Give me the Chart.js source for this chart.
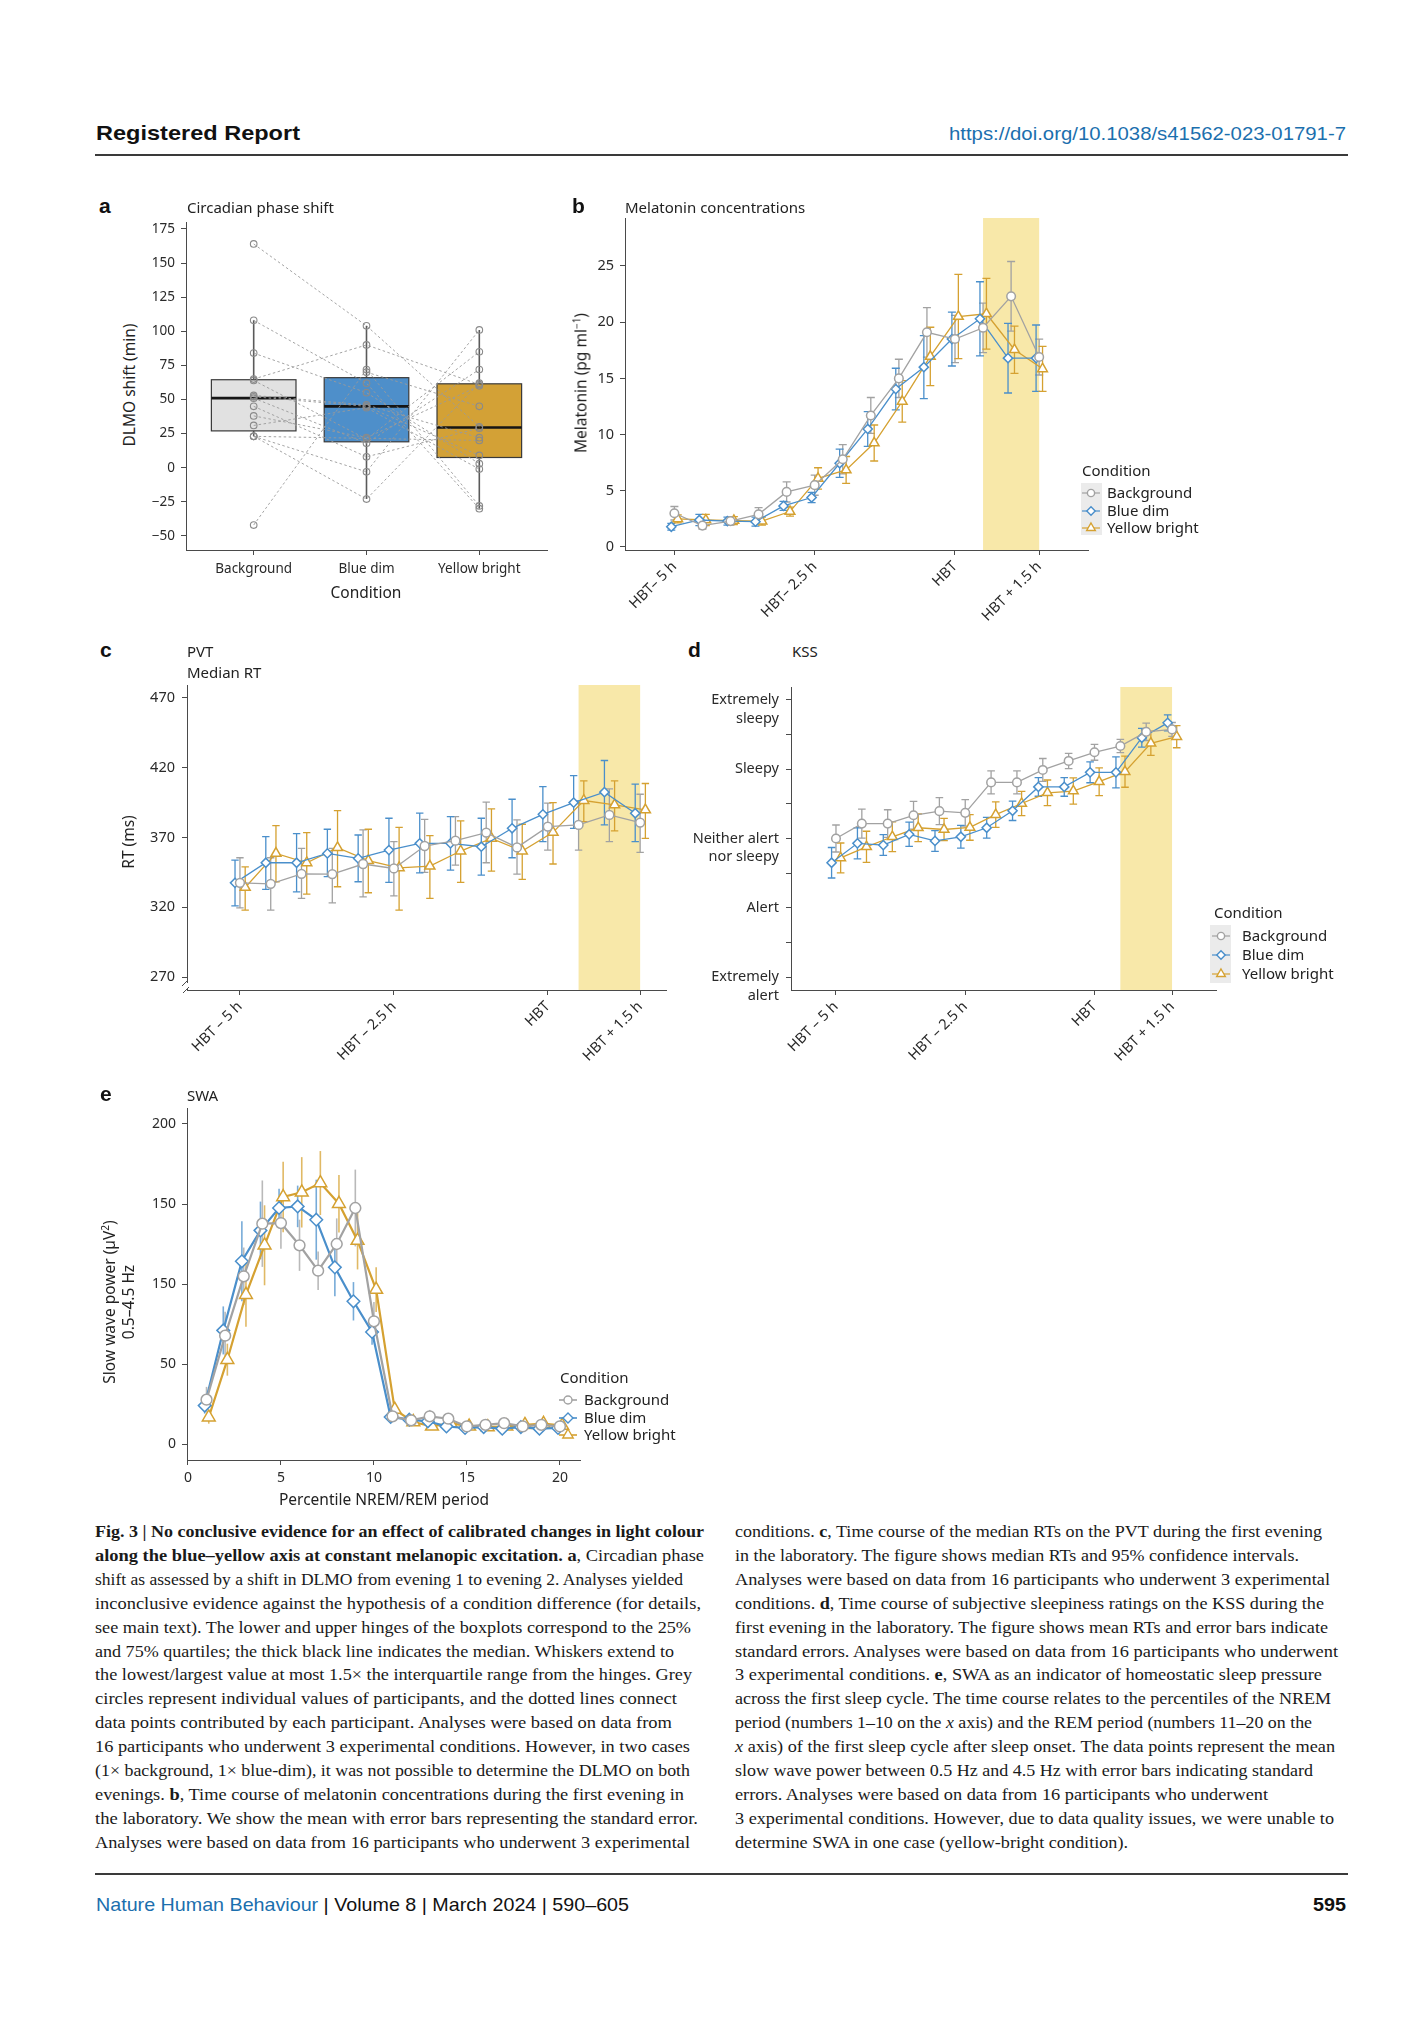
<!DOCTYPE html>
<html lang="en">
<head>
<meta charset="utf-8">
<title>Fig. 3</title>
<script src="https://cdn.jsdelivr.net/npm/chart.js@4.4.1/dist/chart.umd.min.js"></script>
<style>
  html, body { margin: 0; padding: 0; background: #fff; }
  #page { position: relative; width: 1428px; height: 2028px; overflow: hidden; background: #fff; color: #222; font-family: 'Noto Sans', 'DejaVu Sans', sans-serif; }
  #page canvas { position: absolute; }
  .t { position: absolute; white-space: nowrap; font-size: 15px; line-height: 18px; transform-origin: 0 50%; }
  .letter { position: absolute; font-family: 'Liberation Sans', Arial, sans-serif; font-weight: bold; font-size: 21px; line-height: 24px; color: #111; }
  .rot { position: absolute; white-space: nowrap; font-size: 15.5px; line-height: 19px; text-align: center; transform: translate(-50%, -50%) rotate(-90deg); }
  .rule { position: absolute; left: 95px; width: 1253px; height: 2px; background: #3a3a3a; }
  .cap { position: absolute; white-space: nowrap; font-family: 'Liberation Serif', serif; font-size: 17.5px; line-height: 23.9px; color: #1a1a1a; transform-origin: 0 50%; }
  .key { position: absolute; }
  .keybg { position: absolute; background: #ebebeb; }
  .head { position: absolute; white-space: nowrap; font-family: 'Liberation Sans', Arial, sans-serif; transform-origin: 0 50%; }
</style>
</head>
<body>
<div id="page">
  <div class="head" style="left:96px;top:121px;font-size:21px;line-height:24px;font-weight:bold;color:#111" data-w="204">Registered Report</div>
  <div class="head" style="left:949px;top:123px;font-size:19px;line-height:22px;color:#1b6fae" data-w="397">https://doi.org/10.1038/s41562-023-01791-7</div>
  <div class="rule" style="top:154px"></div>

  <canvas id="chartA" width="420" height="380" style="left:140px;top:212px"></canvas>
  <canvas id="chartB" width="530" height="430" style="left:570px;top:208px"></canvas>
  <canvas id="chartC" width="545" height="410" style="left:130px;top:675px"></canvas>
  <canvas id="chartD" width="545" height="408" style="left:685px;top:677px"></canvas>
  <canvas id="chartE" width="450" height="395" style="left:140px;top:1098px"></canvas>

  <div class="letter" style="left:99px;top:194px">a</div>
  <div class="t" style="left:187px;top:198px">Circadian phase shift</div>
  <div class="rot" style="left:129px;top:385px">DLMO shift (min)</div>
  <div class="t" style="left:366px;top:583px;font-size:15.5px;transform:translateX(-50%)">Condition</div>

  <div class="letter" style="left:572px;top:194px">b</div>
  <div class="t" style="left:625px;top:198px">Melatonin concentrations</div>
  <div class="rot" style="left:579px;top:383px">Melatonin (pg ml<sup style="font-size:10px">−1</sup>)</div>

  <div class="letter" style="left:100px;top:638px">c</div>
  <div class="t" style="left:187px;top:642px">PVT</div>
  <div class="t" style="left:187px;top:663px">Median RT</div>
  <div class="rot" style="left:128px;top:842px">RT (ms)</div>

  <div class="letter" style="left:688px;top:638px">d</div>
  <div class="t" style="left:792px;top:642px">KSS</div>

  <div class="letter" style="left:100px;top:1082px">e</div>
  <div class="t" style="left:187px;top:1086px">SWA</div>
  <div class="rot" style="left:117px;top:1302px">Slow wave power (µV<sup style="font-size:10px">2</sup>)<br>0.5–4.5 Hz</div>
  <div class="t" style="left:384px;top:1490px;font-size:15.5px;transform:translateX(-50%)">Percentile NREM/REM period</div>

  <div class="rule" style="top:1873px"></div>
  <div class="head" style="left:96px;top:1894px;font-size:18.5px;line-height:22px;color:#111" data-w="533"><span style="color:#1b6fae">Nature Human Behaviour</span> | Volume 8 | March 2024 | 590–605</div>
  <div class="head" style="left:1313px;top:1894px;font-size:18.5px;line-height:22px;font-weight:bold;color:#111" data-w="33">595</div>
</div>

<script>
// ---- panel a: DLMO shift per participant (min), null = not determined
const conditions = ['Background', 'Blue dim', 'Yellow bright'];
const shiftBackground = [164, 108, 84, 65, 64, 53, 52, 51, 45, 38, 31, 23, 23, 23, -42, null];
const shiftBlueDim    = [104, 62, 55, 90, 21, 46, 45, 18, 8, 22, 44, null, -3, -23, 72, 70];
const shiftYellow     = [30, -30, 3, 61, 85, 22, 9, 72, 29, 60, -1, 20, 101, 62, -28, 45];
const boxLower  = [23, -23, -30];
const boxQ1     = [27, 19, 7.5];
const boxMedian = [51, 45, 29.5];
const boxQ3     = [64.5, 66, 61.5];
const boxUpper  = [108, 104, 101];
const shiftTicks = [-50, -25, 0, 25, 50, 75, 100, 125, 150, 175];

// ---- shared time axis for b, c, d (hours relative to habitual bedtime)
const sampleHours = [-5, -4.5, -4, -3.5, -3, -2.5, -2, -1.5, -1, -0.5, 0, 0.5, 1, 1.5];
const hourTicks = [-5, -2.5, 0, 1.5];
const hourLabelsB = ['HBT– 5 h', 'HBT– 2.5 h', 'HBT', 'HBT + 1.5 h'];
const hourLabelsCD = ['HBT – 5 h', 'HBT – 2.5 h', 'HBT', 'HBT + 1.5 h'];

// ---- panel b: melatonin (pg/ml), mean and SE
const melBackground = [3.0, 1.9, 2.3, 2.9, 4.9, 5.5, 7.8, 11.7, 15.0, 19.1, 18.5, 19.5, 22.3, 16.9];
const melBackgroundSE = [0.6, 0.3, 0.35, 0.6, 0.9, 0.9, 1.3, 1.6, 1.7, 2.2, 2.1, 2.2, 3.1, 1.6];
const melBlueDim = [1.8, 2.4, 2.3, 2.25, 3.65, 4.4, 7.45, 10.5, 14.05, 16.0, 18.5, 20.3, 16.8, 16.8];
const melBlueDimSE = [0.3, 0.5, 0.35, 0.4, 0.4, 0.45, 1.25, 1.55, 1.85, 2.8, 2.4, 3.3, 3.1, 2.95];
const melYellow = [2.5, 2.4, 2.35, 2.3, 3.15, 6.1, 6.85, 9.25, 12.95, 16.95, 20.5, 20.75, 17.55, 15.85];
const melYellowSE = [0.35, 0.5, 0.35, 0.35, 0.4, 0.95, 1.2, 1.6, 1.85, 2.6, 3.75, 3.15, 2.1, 2.0];
const melTicks = [0, 5, 10, 15, 20, 25];

// ---- panel c: PVT median RT (ms) with 95% CI
const rtBackground = [337.5, 336.8, 344.0, 343.8, 351.0, 347.8, 363.9, 367.7, 373.5, 362.9, 377.8, 379.0, 386.2, 380.7];
const rtBackgroundLo = [319.6, 317.9, 326.3, 323.2, 327.5, 328.2, 345.0, 350.2, 351.9, 343.8, 361.0, 361.0, 367.0, 359.3];
const rtBackgroundHi = [355.5, 355.5, 362.2, 362.2, 375.4, 367.0, 383.0, 385.0, 395.3, 382.6, 394.6, 396.5, 404.9, 401.0];
const rtBlueDim = [337.5, 351.9, 351.9, 358.6, 355.0, 361.0, 365.8, 365.8, 363.4, 376.6, 386.6, 395.0, 402.5, 387.4];
const rtBlueDimLo = [321.0, 332.8, 331.0, 341.9, 338.3, 337.8, 344.7, 346.6, 343.0, 355.5, 367.0, 376.6, 379.0, 367.0];
const rtBlueDimHi = [353.8, 370.6, 372.8, 375.9, 371.8, 383.8, 387.4, 385.0, 383.8, 397.4, 406.5, 414.4, 425.2, 408.2];
const rtYellow = [334.2, 358.6, 351.9, 362.7, 353.4, 348.3, 349.5, 360.3, 369.4, 360.3, 373.7, 396.5, 393.4, 389.8];
const rtYellowLo = [317.9, 338.3, 329.4, 334.7, 330.4, 317.9, 326.3, 337.8, 345.9, 340.0, 351.0, 381.4, 374.7, 369.4];
const rtYellowHi = [349.0, 378.5, 373.5, 389.3, 375.9, 377.3, 371.3, 381.9, 390.5, 379.5, 395.0, 410.6, 410.6, 408.7];
const rtTicks = [270, 320, 370, 420, 470];

// ---- panel d: KSS (1-9), mean and SE
const kssBackground = [5.0, 5.43, 5.43, 5.67, 5.79, 5.74, 6.62, 6.62, 6.98, 7.24, 7.49, 7.67, 8.08, 8.15];
const kssBackgroundSE = [0.39, 0.42, 0.4, 0.4, 0.39, 0.38, 0.33, 0.33, 0.33, 0.22, 0.23, 0.19, 0.25, 0.2];
const kssBlueDim = [4.30, 4.86, 4.81, 5.12, 4.93, 5.05, 5.31, 5.80, 6.49, 6.49, 6.91, 6.91, 7.91, 8.34];
const kssBlueDimSE = [0.44, 0.45, 0.3, 0.35, 0.3, 0.33, 0.3, 0.28, 0.27, 0.27, 0.3, 0.45, 0.27, 0.23];
const kssYellow = [4.44, 4.76, 5.05, 5.31, 5.26, 5.32, 5.69, 6.01, 6.32, 6.37, 6.64, 6.93, 7.75, 7.94];
const kssYellowSE = [0.43, 0.45, 0.43, 0.4, 0.32, 0.37, 0.37, 0.35, 0.37, 0.38, 0.4, 0.45, 0.35, 0.32];
const kssTicks = [1, 2, 3, 4, 5, 6, 7, 8, 9];
const kssNamedTicks = [1, 3, 5, 7, 9];
const kssNames = [['Extremely', 'alert'], ['Alert'], ['Neither alert', 'nor sleepy'], ['Sleepy'], ['Extremely', 'sleepy']];

// ---- panel e: slow wave power (µV²), mean and SE
const percentiles = [1, 2, 3, 4, 5, 6, 7, 8, 9, 10, 11, 12, 13, 14, 15, 16, 17, 18, 19, 20];
const swaBackground = [27.7, 67.7, 104.8, 137.7, 138.1, 124.2, 108.3, 125, 147.5, 76.7, 17.3, 14.8, 17.3, 15.8, 11, 12, 13, 11, 12, 11];
const swaBackgroundSE = [8, 15, 18, 27, 16, 16, 12, 16, 24, 12, 2, 2, 4, 3, 2, 2, 2, 2, 2, 2];
const swaBlueDim = [24, 71, 114.2, 133.5, 147.5, 148.5, 140.2, 110.4, 89.2, 70, 16.9, 15.2, 14.2, 11, 10, 10.6, 9.6, 10.6, 9.6, 10];
const swaBlueDimSE = [5, 15, 25, 18, 12, 13, 25, 18, 12, 8, 2, 2, 2, 2, 1.5, 1.5, 1.5, 1.5, 1.5, 1.5];
const swaYellow = [16.7, 52.7, 93.3, 124.2, 154.4, 157.3, 163.1, 150.2, 127.1, 96.5, 21.5, 13.75, 11, 13, 11, 10.6, 11, 12, 12.7, 11.5];
const swaYellowSE = [4, 10, 20, 25, 22, 22, 20, 18, 18, 14, 3, 2, 2, 2, 2, 1.5, 1.5, 1.5, 1.5, 1.5];
const swaTicks = [0, 50, 100, 150, 200];
const swaTickLabels = ['0', '50', '150', '150', '200'];   // as printed in the original
const percentileTicks = [0, 5, 10, 15, 20];

// ---- styling
Chart.defaults.font.family = "'Noto Sans', 'DejaVu Sans', sans-serif";
Chart.defaults.color = '#2a2a2a';
const AXIS = '#4a4a4a';
const GREY = '#a2a2a2', BLUE = '#4a8fcb', YELLOW = '#d5a131';
const BOX_FILL = ['#e1e1e1', '#4e8fca', '#d3a136'];
const BOX_HALF = 0.375;   // half box width in category units

const minus = (m, s) => m.map((v, i) => v - s[i]);
const plus = (m, s) => m.map((v, i) => v + s[i]);

// shaded light-exposure window
const band = {
  id: 'band',
  beforeDatasetsDraw(chart, args, opts) {
    const { ctx, chartArea, scales: { x } } = chart;
    const x1 = x.getPixelForValue(opts.from), x2 = x.getPixelForValue(opts.to);
    ctx.save();
    ctx.fillStyle = opts.color || '#f8e8a9';
    ctx.fillRect(x1, chartArea.top, x2 - x1, chartArea.bottom - chartArea.top);
    ctx.restore();
  }
};

// vertical error bars, read from dataset.errLo / errHi
const errorBars = {
  id: 'errorBars',
  beforeDatasetsDraw(chart) {
    const { ctx, scales: { x, y } } = chart;
    chart.data.datasets.forEach(ds => {
      if (!ds.errLo) return;
      ctx.save();
      ctx.strokeStyle = ds.errColor;
      ctx.lineWidth = ds.errWidth;
      ds.data.forEach((p, j) => {
        const px = x.getPixelForValue(p.x);
        const y1 = y.getPixelForValue(ds.errLo[j]);
        const y2 = y.getPixelForValue(ds.errHi[j]);
        ctx.beginPath();
        ctx.moveTo(px, y1); ctx.lineTo(px, y2);
        if (ds.errCap) {
          ctx.moveTo(px - ds.errCap, y1); ctx.lineTo(px + ds.errCap, y1);
          ctx.moveTo(px - ds.errCap, y2); ctx.lineTo(px + ds.errCap, y2);
        }
        ctx.stroke();
      });
      ctx.restore();
    });
  }
};

function mkSeries(xs, dodge, mean, lo, hi, color, shape, r, lw, cap, errColor, errW) {
  return {
    data: mean.map((v, i) => ({ x: xs[i] + dodge, y: v })),
    borderColor: color, backgroundColor: color, borderWidth: lw,
    pointStyle: shape, pointRadius: r, pointBorderWidth: 1.5,
    pointBackgroundColor: '#ffffff', pointBorderColor: color,
    tension: 0, fill: false,
    errLo: lo, errHi: hi, errCap: cap, errColor: errColor || color, errWidth: errW || 1.3
  };
}

function axisX(o) {
  return {
    type: 'linear', min: o.min, max: o.max, offset: false,
    grid: { drawOnChartArea: false, tickLength: 5, color: AXIS, offset: false },
    border: { color: AXIS, width: 1 },
    ticks: {
      autoSkip: false, maxRotation: o.rot, minRotation: o.rot, padding: o.pad,
      color: '#2a2a2a', font: { size: o.fs },
      callback: v => o.labels[o.ticks.indexOf(v)]
    },
    afterBuildTicks: s => { s.ticks = o.ticks.map(v => ({ value: v })); },
    afterFit: s => { s.height = o.h; s.paddingLeft = 0; s.paddingRight = 0; }
  };
}

function axisY(o) {
  return {
    type: 'linear', min: o.min, max: o.max,
    grid: { drawOnChartArea: false, tickLength: 5, color: AXIS },
    border: { color: AXIS, width: 1 },
    ticks: {
      autoSkip: false, padding: o.pad, color: '#2a2a2a',
      font: { size: o.fs, lineHeight: o.lh || 1.2 },
      callback: o.label
    },
    afterBuildTicks: s => { s.ticks = o.ticks.map(v => ({ value: v })); },
    afterFit: s => { s.width = o.w; s.paddingTop = 0; s.paddingBottom = 0; }
  };
}

function baseOptions(padRight, x, y, bandOpts) {
  return {
    responsive: false, animation: false, events: [],
    layout: { padding: { left: 0, top: 10, right: padRight, bottom: 0 } },
    plugins: { legend: { display: false }, tooltip: { enabled: false }, band: bandOpts || false },
    scales: { x: x, y: y }
  };
}

// ---- a: boxplots + participant trajectories
const boxPlot = {
  id: 'boxPlot',
  beforeDatasetsDraw(chart) {
    const { ctx, scales: { x, y } } = chart;
    ctx.save();
    conditions.forEach((c, i) => {
      const px = x.getPixelForValue(i + 1);
      // whiskers
      ctx.strokeStyle = '#5a5a5a';
      ctx.lineWidth = 1.6;
      ctx.beginPath();
      ctx.moveTo(px, y.getPixelForValue(boxQ3[i])); ctx.lineTo(px, y.getPixelForValue(boxUpper[i]));
      ctx.moveTo(px, y.getPixelForValue(boxQ1[i])); ctx.lineTo(px, y.getPixelForValue(boxLower[i]));
      ctx.stroke();
      // box
      const x1 = x.getPixelForValue(i + 1 - BOX_HALF), x2 = x.getPixelForValue(i + 1 + BOX_HALF);
      const yTop = y.getPixelForValue(boxQ3[i]), yBot = y.getPixelForValue(boxQ1[i]);
      ctx.fillStyle = BOX_FILL[i];
      ctx.fillRect(x1, yTop, x2 - x1, yBot - yTop);
      ctx.strokeStyle = '#3a3a3a';
      ctx.lineWidth = 1.2;
      ctx.strokeRect(x1, yTop, x2 - x1, yBot - yTop);
      // median
      const ym = y.getPixelForValue(boxMedian[i]);
      ctx.strokeStyle = '#151515';
      ctx.lineWidth = 2.6;
      ctx.beginPath();
      ctx.moveTo(x1, ym); ctx.lineTo(x2, ym);
      ctx.stroke();
    });
    ctx.restore();
  }
};

const participantLines = shiftBackground.map((b, i) => {
  const pts = [];
  [b, shiftBlueDim[i], shiftYellow[i]].forEach((v, k) => { if (v !== null) pts.push({ x: k + 1, y: v }); });
  return {
    data: pts, order: 2,
    borderColor: '#9a9a9a', borderWidth: 0.9, borderDash: [2.5, 2.5],
    pointRadius: 0, tension: 0, fill: false
  };
});

const pointSets = [shiftBackground, shiftBlueDim, shiftYellow].map((arr, k) => ({
  showLine: false, order: 1,
  data: arr.filter(v => v !== null).map(v => ({ x: k + 1, y: v })),
  pointStyle: 'circle', pointRadius: 3.3, pointBorderWidth: 1.1,
  pointBorderColor: '#8a8a8a', pointBackgroundColor: 'rgba(0,0,0,0)'
}));

new Chart(document.getElementById('chartA'), {
  type: 'line',
  data: { datasets: [...participantLines, ...pointSets] },
  options: baseOptions(13,
    axisX({ min: 0.4, max: 3.6, ticks: [1, 2, 3], labels: conditions, rot: 0, pad: 6, fs: 13.5, h: 42 }),
    axisY({ min: -60.3, max: 180.1, ticks: shiftTicks, pad: 6, fs: 13.5, w: 46,
      label: v => (v < 0 ? '\u2212' + Math.abs(v) : String(v)) })),
  plugins: [boxPlot]
});

// ---- b: melatonin
new Chart(document.getElementById('chartB'), {
  type: 'line',
  data: {
    datasets: [
      mkSeries(sampleHours, 0, melBackground, minus(melBackground, melBackgroundSE), plus(melBackground, melBackgroundSE), GREY, 'circle', 4.3, 1.3, 4),
      mkSeries(sampleHours, -0.055, melBlueDim, minus(melBlueDim, melBlueDimSE), plus(melBlueDim, melBlueDimSE), BLUE, 'rectRot', 4.6, 1.3, 4),
      mkSeries(sampleHours, 0.06, melYellow, minus(melYellow, melYellowSE), plus(melYellow, melYellowSE), YELLOW, 'triangle', 5.6, 1.3, 4)
    ]
  },
  options: baseOptions(12,
    axisX({ min: -5.88, max: 2.37, ticks: hourTicks, labels: hourLabelsB, rot: 45, pad: 3, fs: 14.5, h: 88 }),
    axisY({ min: -0.27, max: 29.27, ticks: melTicks, pad: 6, fs: 14.5, w: 55, label: v => String(v) }),
    { from: 0.5, to: 1.5, color: '#f8e8a9' }),
  plugins: [band, errorBars]
});

// ---- c: PVT
const axisBreak = {
  id: 'axisBreak',
  afterDraw(chart) {
    const { ctx, chartArea, scales: { y } } = chart;
    const yb = y.getPixelForValue(270) + 6;
    ctx.save();
    ctx.fillStyle = '#fff';
    ctx.fillRect(chartArea.left - 2, yb, 4, chartArea.bottom - yb - 1);
    ctx.strokeStyle = AXIS;
    ctx.lineWidth = 1;
    ctx.beginPath();
    ctx.moveTo(chartArea.left - 5, yb + 3); ctx.lineTo(chartArea.left + 1, yb - 3);
    ctx.moveTo(chartArea.left - 4, chartArea.bottom + 3); ctx.lineTo(chartArea.left + 2, chartArea.bottom - 3);
    ctx.stroke();
    ctx.restore();
  }
};

new Chart(document.getElementById('chartC'), {
  type: 'line',
  data: {
    datasets: [
      mkSeries(sampleHours, 0, rtBackground, rtBackgroundLo, rtBackgroundHi, GREY, 'circle', 4.4, 1.3, 3.7),
      mkSeries(sampleHours, -0.08, rtBlueDim, rtBlueDimLo, rtBlueDimHi, BLUE, 'rectRot', 4.6, 1.3, 3.7),
      mkSeries(sampleHours, 0.085, rtYellow, rtYellowLo, rtYellowHi, YELLOW, 'triangle', 5.8, 1.3, 3.7)
    ]
  },
  options: baseOptions(9,
    axisX({ min: -5.86, max: 1.92, ticks: hourTicks, labels: hourLabelsCD, rot: 45, pad: 3, fs: 14.5, h: 95 }),
    axisY({ min: 260.7, max: 479.3, ticks: rtTicks, pad: 7, fs: 14.5, w: 57, label: v => String(v) }),
    { from: 0.5, to: 1.5, color: '#f8e8a9' }),
  plugins: [band, errorBars, axisBreak]
});

// ---- d: KSS
new Chart(document.getElementById('chartD'), {
  type: 'line',
  data: {
    datasets: [
      mkSeries(sampleHours, 0, kssBackground, minus(kssBackground, kssBackgroundSE), plus(kssBackground, kssBackgroundSE), GREY, 'circle', 4.3, 1.3, 3.8),
      mkSeries(sampleHours, -0.085, kssBlueDim, minus(kssBlueDim, kssBlueDimSE), plus(kssBlueDim, kssBlueDimSE), BLUE, 'rectRot', 4.6, 1.3, 3.8),
      mkSeries(sampleHours, 0.09, kssYellow, minus(kssYellow, kssYellowSE), plus(kssYellow, kssYellowSE), YELLOW, 'triangle', 5.6, 1.3, 3.8)
    ]
  },
  options: baseOptions(14,
    axisX({ min: -5.87, max: 2.35, ticks: hourTicks, labels: hourLabelsCD, rot: 45, pad: 3, fs: 14.5, h: 95 }),
    axisY({ min: 0.625, max: 9.375, ticks: kssTicks, pad: 7, fs: 14.5, lh: 1.3, w: 106,
      label: v => {
        const k = kssNamedTicks.indexOf(v);
        if (k < 0) return '';
        const lines = kssNames[k];
        return lines.length > 1 ? [''].concat(lines) : lines[0];
      } }),
    { from: 0.5, to: 1.5, color: '#f8e8a9' }),
  plugins: [band, errorBars]
});

// ---- e: SWA
new Chart(document.getElementById('chartE'), {
  type: 'line',
  data: {
    datasets: [
      mkSeries(percentiles, 0, swaBackground, minus(swaBackground, swaBackgroundSE), plus(swaBackground, swaBackgroundSE), GREY, 'circle', 5.4, 2.2, 0, 'rgba(162,162,162,0.75)', 1.6),
      mkSeries(percentiles, -0.1, swaBlueDim, minus(swaBlueDim, swaBlueDimSE), plus(swaBlueDim, swaBlueDimSE), BLUE, 'rectRot', 6.3, 2.2, 0, 'rgba(74,143,203,0.75)', 1.6),
      mkSeries(percentiles, 0.12, swaYellow, minus(swaYellow, swaYellowSE), plus(swaYellow, swaYellowSE), YELLOW, 'triangle', 7.4, 2.2, 0, 'rgba(213,161,49,0.75)', 1.6)
    ]
  },
  options: baseOptions(10,
    axisX({ min: -0.05, max: 21.08, ticks: percentileTicks, labels: percentileTicks.map(String), rot: 0, pad: 5, fs: 14, h: 33 }),
    axisY({ min: -10, max: 210, ticks: swaTicks, pad: 6, fs: 14, w: 47,
      label: v => swaTickLabels[swaTicks.indexOf(v)] })),
  plugins: [errorBars]
});

// ---- legends (html)
const page = document.getElementById('page');
function keySvg(shape, color, r, lw) {
  let m;
  if (shape === 'circle') {
    m = '<circle cx="10" cy="8" r="' + r + '" fill="#fff" stroke="' + color + '" stroke-width="1.4"/>';
  } else if (shape === 'diamond') {
    m = '<polygon points="10,' + (8 - r) + ' ' + (10 + r) + ',8 10,' + (8 + r) + ' ' + (10 - r) + ',8" fill="#fff" stroke="' + color + '" stroke-width="1.4"/>';
  } else {
    const a = r * 0.866;
    m = '<polygon points="10,' + (8 - r) + ' ' + (10 + a) + ',' + (8 + r / 2) + ' ' + (10 - a) + ',' + (8 + r / 2) + '" fill="#fff" stroke="' + color + '" stroke-width="1.4"/>';
  }
  return '<svg width="20" height="16" viewBox="0 0 20 16"><line x1="1" y1="8" x2="19" y2="8" stroke="' + color + '" stroke-width="' + lw + '"/>' + m + '</svg>';
}
function addLegend(o) {
  const t = document.createElement('div');
  t.className = 't';
  t.style.left = o.titleX + 'px'; t.style.top = (o.titleY - 9) + 'px';
  t.textContent = 'Condition';
  page.appendChild(t);
  if (o.bg) {
    const b = document.createElement('div');
    b.className = 'keybg';
    b.style.cssText = 'left:' + o.bg[0] + 'px;top:' + o.bg[1] + 'px;width:' + o.bg[2] + 'px;height:' + o.bg[3] + 'px';
    page.appendChild(b);
  }
  const shapes = ['circle', 'diamond', 'triangle'];
  const colors = [GREY, BLUE, YELLOW];
  conditions.forEach((c, i) => {
    const k = document.createElement('div');
    k.className = 'key';
    k.style.left = (o.keyCx - 10) + 'px'; k.style.top = (o.rows[i] - 8) + 'px';
    k.innerHTML = keySvg(shapes[i], colors[i], o.r[i], o.lw);
    page.appendChild(k);
    const l = document.createElement('div');
    l.className = 't';
    l.style.left = o.textX + 'px'; l.style.top = (o.rows[i] - 9) + 'px';
    l.textContent = c;
    page.appendChild(l);
  });
}
addLegend({ titleX: 1082, titleY: 470, keyCx: 1091, textX: 1107, rows: [492, 509.5, 527], bg: [1081, 483, 21, 52], r: [3.6, 4.2, 5], lw: 1.2 });
addLegend({ titleX: 1214, titleY: 912, keyCx: 1221, textX: 1242, rows: [935, 954, 973], bg: [1210, 925, 21, 58], r: [3.6, 4.2, 5], lw: 1.2 });
addLegend({ titleX: 560, titleY: 1377, keyCx: 568, textX: 584, rows: [1399, 1416.5, 1434], bg: null, r: [4, 5, 6], lw: 1.6 });

// ---- caption
const capLeft = [
  '<b>Fig. 3 | No conclusive evidence for an effect of calibrated changes in light colour</b>',
  '<b>along the blue–yellow axis at constant melanopic excitation. a</b>, Circadian phase',
  'shift as assessed by a shift in DLMO from evening 1 to evening 2. Analyses yielded',
  'inconclusive evidence against the hypothesis of a condition difference (for details,',
  'see main text). The lower and upper hinges of the boxplots correspond to the 25%',
  'and 75% quartiles; the thick black line indicates the median. Whiskers extend to',
  'the lowest/largest value at most 1.5× the interquartile range from the hinges. Grey',
  'circles represent individual values of participants, and the dotted lines connect',
  'data points contributed by each participant. Analyses were based on data from',
  '16 participants who underwent 3 experimental conditions. However, in two cases',
  '(1× background, 1× blue-dim), it was not possible to determine the DLMO on both',
  'evenings. <b>b</b>, Time course of melatonin concentrations during the first evening in',
  'the laboratory. We show the mean with error bars representing the standard error.',
  'Analyses were based on data from 16 participants who underwent 3 experimental'
];
const capLeftW = [609, 609, 588, 606, 596, 579, 597, 582, 577, 595, 595, 589, 603, 595];
const capRight = [
  'conditions. <b>c</b>, Time course of the median RTs on the PVT during the first evening',
  'in the laboratory. The figure shows median RTs and 95% confidence intervals.',
  'Analyses were based on data from 16 participants who underwent 3 experimental',
  'conditions. <b>d</b>, Time course of subjective sleepiness ratings on the KSS during the',
  'first evening in the laboratory. The figure shows mean RTs and error bars indicate',
  'standard errors. Analyses were based on data from 16 participants who underwent',
  '3 experimental conditions. <b>e</b>, SWA as an indicator of homeostatic sleep pressure',
  'across the first sleep cycle. The time course relates to the percentiles of the NREM',
  'period (numbers 1–10 on the <i>x</i> axis) and the REM period (numbers 11–20 on the',
  '<i>x</i> axis) of the first sleep cycle after sleep onset. The data points represent the mean',
  'slow wave power between 0.5 Hz and 4.5 Hz with error bars indicating standard',
  'errors. Analyses were based on data from 16 participants who underwent',
  '3 experimental conditions. However, due to data quality issues, we were unable to',
  'determine SWA in one case (yellow-bright condition).'
];
const capRightW = [587, 564, 595, 589, 593, 603, 587, 596, 577, 600, 578, 533, 599, 393];

function addCaption(lines, widths, left) {
  lines.forEach((html, i) => {
    const d = document.createElement('div');
    d.className = 'cap';
    d.style.left = left + 'px';
    d.style.top = (1520 + i * 23.9) + 'px';
    d.dataset.w = widths[i];
    d.innerHTML = html;
    page.appendChild(d);
  });
}
addCaption(capLeft, capLeftW, 95);
addCaption(capRight, capRightW, 735);

function fitText() {
  document.querySelectorAll('[data-w]').forEach(el => {
    el.style.transform = 'none';
    const nat = el.getBoundingClientRect().width;
    if (nat > 0) el.style.transform = 'scaleX(' + (parseFloat(el.dataset.w) / nat) + ')';
  });
}
fitText();
if (document.fonts && document.fonts.ready) document.fonts.ready.then(fitText);
</script>
</body>
</html>
